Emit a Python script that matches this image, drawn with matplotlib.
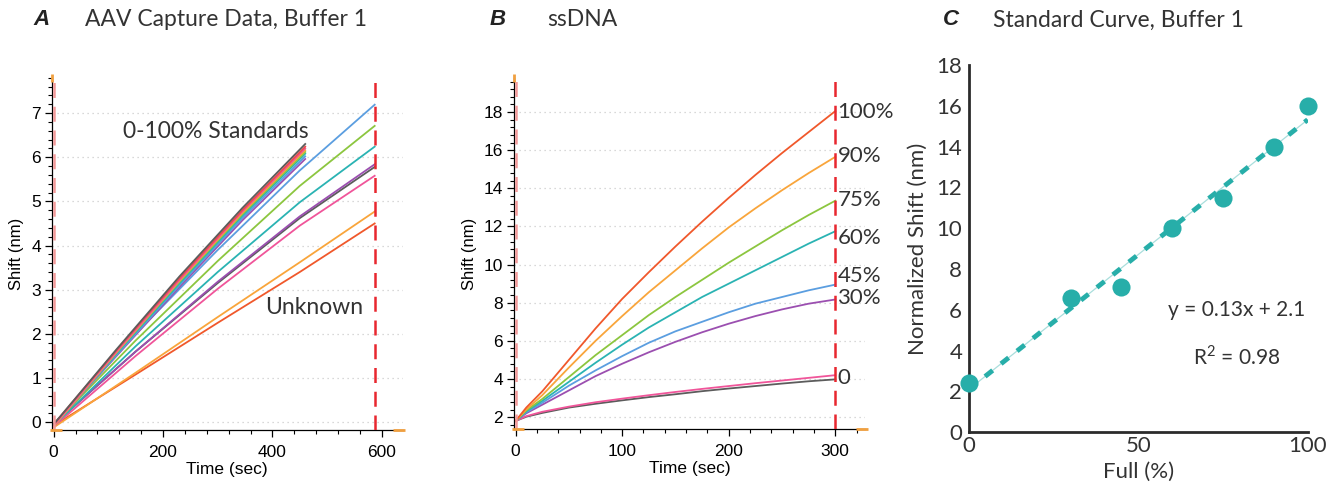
import matplotlib
matplotlib.use("Agg")
import matplotlib.pyplot as plt
from matplotlib.ticker import MultipleLocator
from matplotlib.font_manager import FontProperties
import numpy as np

plt.rcParams['font.family'] = ['Liberation Sans', 'DejaVu Sans']
plt.rcParams['mathtext.fontset'] = 'custom'
plt.rcParams['mathtext.rm'] = 'Lato'

# ---- Panel A: AAV capture, standards (to 460 s) and unknowns (to 587 s)
a_std_time = [0, 115, 230, 345, 460]
a_std_shift = [
    [-0.06, 1.50, 3.06, 4.57, 5.96],   # purple
    [-0.06, 1.52, 3.10, 4.62, 6.02],   # blue
    [-0.08, 1.55, 3.14, 4.67, 6.08],   # teal
    [-0.06, 1.58, 3.18, 4.71, 6.12],   # green
    [-0.10, 1.58, 3.20, 4.74, 6.16],   # orange
    [-0.08, 1.60, 3.22, 4.77, 6.20],   # pink
    [-0.05, 1.63, 3.26, 4.80, 6.24],   # red
    [-0.05, 1.65, 3.30, 4.85, 6.30],   # gray
]
a_std_colors = ['#9b4fb0', '#5b9ee0', '#2ab3b3', '#8cc63f',
                '#f9a53b', '#f0559a', '#ef4a4a', '#5c5c5c']

a_unk_time = [0, 150, 300, 450, 587]
a_unk_shift = [
    [-0.08, 1.08, 2.25, 3.40, 4.50],   # red-orange
    [-0.12, 1.12, 2.38, 3.62, 4.77],   # orange
    [-0.10, 1.50, 3.02, 4.45, 5.58],   # pink
    [-0.05, 1.60, 3.15, 4.62, 5.78],   # gray
    [-0.05, 1.60, 3.18, 4.66, 5.84],   # purple
    [-0.08, 1.72, 3.40, 4.98, 6.24],   # teal
    [-0.05, 1.85, 3.65, 5.35, 6.71],   # green
    [-0.05, 2.00, 3.90, 5.70, 7.19],   # blue
]
a_unk_colors = ['#f0582b', '#f9a53b', '#f0559a', '#5c5c5c',
                '#9b4fb0', '#2ab3b3', '#8cc63f', '#5b9ee0']
a_end_time = 587

# ---- Panel B: ssDNA
b_time = [0, 10, 25, 50, 75, 100, 125, 150, 175, 200, 225, 250, 275, 300]
b_shift = [
    # gray
    [1.8, 2.02, 2.22, 2.50, 2.70, 2.88, 3.05, 3.20, 3.36, 3.50, 3.63, 3.76, 3.88, 3.98],
    # pink (0)
    [1.8, 2.05, 2.28, 2.55, 2.78, 2.97, 3.15, 3.32, 3.48, 3.63, 3.78, 3.92, 4.06, 4.20],
    # purple (30%)
    [1.8, 2.20, 2.65, 3.40, 4.15, 4.80, 5.40, 5.95, 6.45, 6.90, 7.30, 7.65, 7.95, 8.17],
    # blue (45%)
    [1.8, 2.25, 2.75, 3.65, 4.45, 5.20, 5.90, 6.50, 7.00, 7.50, 7.95, 8.30, 8.65, 8.95],
    # teal (60%)
    [1.8, 2.30, 2.85, 3.85, 4.85, 5.80, 6.70, 7.50, 8.30, 9.00, 9.70, 10.40, 11.10, 11.75],
    # green (75%)
    [1.8, 2.35, 2.95, 4.10, 5.25, 6.30, 7.35, 8.30, 9.20, 10.10, 10.95, 11.80, 12.60, 13.35],
    # orange (90%)
    [1.8, 2.40, 3.15, 4.60, 6.00, 7.30, 8.55, 9.70, 10.85, 11.95, 12.95, 13.90, 14.80, 15.65],
    # red (100%)
    [1.8, 2.50, 3.35, 5.00, 6.65, 8.20, 9.60, 10.95, 12.25, 13.50, 14.70, 15.85, 16.95, 18.05],
]
b_colors = ['#5c5c5c', '#f0559a', '#9b4fb0', '#5b9ee0',
            '#2ab3b3', '#8cc63f', '#f9a53b', '#f0582b']
b_end_time = 300
b_labels = ['100%', '90%', '75%', '60%', '45%', '30%', '0']
b_label_y = [18.0, 15.7, 13.4, 11.4, 9.4, 8.25, 4.05]

# ---- Panel C: standard curve
c_full = [0, 30, 45, 60, 75, 90, 100]
c_shift = [2.4, 6.6, 7.1, 10.0, 11.5, 14.0, 16.0]

TEAL = '#27aea9'
DARK = '#333333'
light = dict(family=['Lato', 'DejaVu Sans'], weight='normal', color=DARK)


def style_sensor_axes(ax, xlim, ylim, xmaj, xmin, ymaj, ymin):
    ax.set_xlim(*xlim)
    ax.set_ylim(*ylim)
    ax.xaxis.set_major_locator(MultipleLocator(xmaj))
    ax.xaxis.set_minor_locator(MultipleLocator(xmin))
    ax.yaxis.set_major_locator(MultipleLocator(ymaj))
    ax.yaxis.set_minor_locator(MultipleLocator(ymin))
    for s in ['top', 'right']:
        ax.spines[s].set_visible(False)
    for s in ['left', 'bottom']:
        ax.spines[s].set_linewidth(0.9)
    ax.tick_params(which='major', length=5, width=0.9, labelsize=12.5)
    ax.tick_params(which='minor', length=3, width=0.8)
    ax.tick_params(axis='x', which='major', pad=6)
    ax.tick_params(axis='y', which='major', pad=3)
    ax.yaxis.grid(True, which='major', color='#cccccc',
                  linestyle=(0, (1, 3)), linewidth=0.9)
    ax.set_axisbelow(True)
    ax.set_xlabel('Time (sec)', fontsize=12.5, labelpad=1)
    ax.set_ylabel('Shift (nm)', fontsize=12, labelpad=5)
    # dashed marker at the start of the step
    ax.axvline(0, color='#f29a9a', lw=1.8, dashes=(6, 3.5), zorder=3)
    # small orange handles on the axis corners
    kw = dict(transform=ax.transAxes, clip_on=False, color='#f0a040', zorder=5)
    ax.plot([0], [1], marker='|', markersize=6, mew=2, **kw)
    ax.plot([0.012], [0], marker='_', markersize=8, mew=2, **kw)
    ax.plot([0.99], [0], marker='_', markersize=8, mew=2, **kw)


fig = plt.figure(figsize=(13.33, 4.86), dpi=100)

# ---------------- Panel A
axa = fig.add_axes([0.039, 0.115, 0.263, 0.725])
style_sensor_axes(axa, (-3, 638), (-0.18, 7.8), 200, 40, 1, 0.2)
for y, c in zip(a_unk_shift, a_unk_colors):
    axa.plot(a_unk_time, y, color=c, lw=1.3)
for y, c in zip(a_std_shift, a_std_colors):
    axa.plot(a_std_time, y, color=c, lw=1.3)
axa.axvline(a_end_time, color='#e8272f', lw=1.8, dashes=(6, 3.5), zorder=4)
axa.text(296, 6.59, '0-100% Standards', fontsize=16.5, ha='center', va='center', **light)
axa.text(477, 2.59, 'Unknown', fontsize=16.5, ha='center', va='center', **light)

# ---------------- Panel B
axb = fig.add_axes([0.3856, 0.117, 0.2634, 0.723])
style_sensor_axes(axb, (-1.5, 328), (1.37, 19.8), 100, 20, 2, 0.4)
for y, c in zip(b_shift, b_colors):
    axb.plot(b_time, y, color=c, lw=1.3)
axb.axvline(b_end_time, color='#e8272f', lw=1.8, dashes=(6, 3.5), zorder=4)
for lab, ly in zip(b_labels, b_label_y):
    axb.text(b_end_time + 2, ly, lab, fontsize=16, ha='left', va='center',
             clip_on=False, **light)

# ---------------- Panel C
axc = fig.add_axes([0.727, 0.111, 0.254, 0.755])
slope, intercept = np.polyfit(c_full, c_shift, 1)
fx = np.array([0, 100])
axc.plot(fx, slope * fx + intercept, color='#a9dedc', lw=0.9, zorder=2)
axc.plot(fx, slope * fx + intercept, color=TEAL, lw=3.5, dashes=(2.0, 2.2),
         solid_capstyle='butt', dash_capstyle='butt', zorder=3)
axc.scatter(c_full, c_shift, s=170, color=TEAL, zorder=4, clip_on=False,
            linewidths=0)
axc.set_xlim(0, 100)
axc.set_ylim(0, 18)
axc.set_xticks([0, 50, 100])
axc.set_yticks(range(0, 19, 2))
for s in ['top', 'right']:
    axc.spines[s].set_visible(False)
for s in ['left', 'bottom']:
    axc.spines[s].set_linewidth(2.0)
    axc.spines[s].set_color('#2b2b2b')
axc.tick_params(length=0)
axc.tick_params(axis='y', pad=5)
axc.tick_params(axis='x', pad=3)
fp = FontProperties(family=['Lato', 'DejaVu Sans'], weight='normal', size=16)
for lbl in axc.get_xticklabels() + axc.get_yticklabels():
    lbl.set_fontproperties(fp)
    lbl.set_color(DARK)
axc.set_xlabel('Full (%)', fontsize=16, labelpad=4, **light)
axc.set_ylabel('Normalized Shift (nm)', fontsize=16, labelpad=6, **light)
axc.text(79, 6.0, 'y = 0.13x + 2.1', fontsize=15, ha='center', va='center', **light)
axc.text(79, 3.7, r'R$^\mathregular{2}$ = 0.98', fontsize=15, ha='center',
         va='center', **light)

# ---------------- panel headings
heads = [(0.025, 'A', 0.0638, 'AAV Capture Data, Buffer 1'),
         (0.367, 'B', 0.4104, 'ssDNA'),
         (0.7074, 'C', 0.745, 'Standard Curve, Buffer 1')]
for lx, letter, tx, title in heads:
    fig.text(lx, 0.959, letter, fontsize=16, fontweight='bold', style='italic',
             color='#222222', va='center')
    fig.text(tx, 0.959, title, fontsize=16.5, va='center', **light)

fig.savefig('out.png', dpi=100)
